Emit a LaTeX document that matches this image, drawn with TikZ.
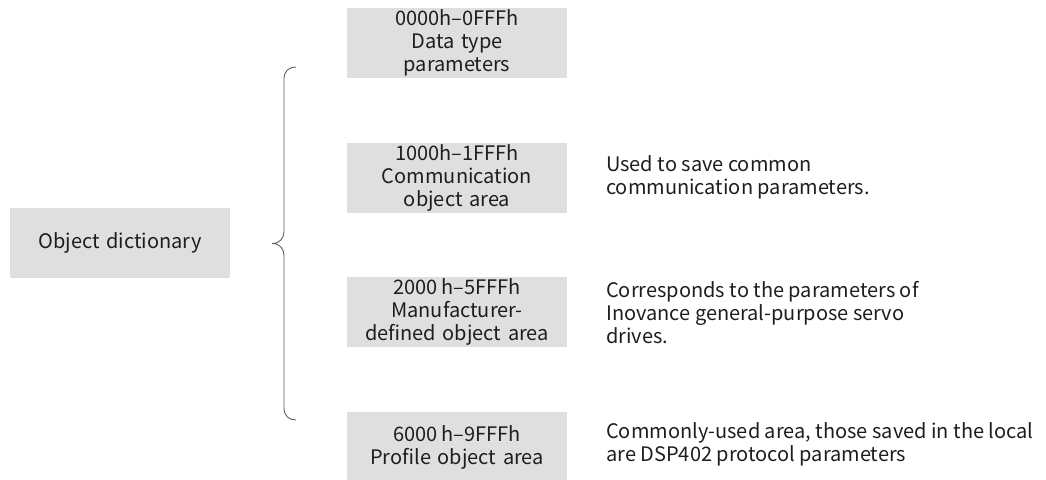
\documentclass[tikz,border=0pt]{standalone}
\usepackage{fontspec}
\setmainfont{Noto Sans CJK SC}
\definecolor{boxfill}{HTML}{DFDFDF}
\definecolor{ink}{HTML}{1E1E1E}
\definecolor{bracegray}{HTML}{606060}
\begin{document}
\begin{tikzpicture}[x=1pt,y=-1pt,
  txt/.style={font=\fontsize{20}{23}\selectfont, text=ink},
  areabox/.style={txt, fill=boxfill, minimum width=220, minimum height=70,
    text width=216, align=center, inner sep=0pt},
  desc/.style={txt, anchor=west, align=left, inner sep=0pt}]
\useasboundingbox (0,0) rectangle (1046,479);

% root of the dictionary
\node[areabox] (root) at (120,243) {Object dictionary};

% index ranges
\node[areabox] (dtype) at (457,43) {0000h–0FFFh\\Data type\\parameters};
\node[areabox] (comm)  at (457,177.5) {1000h–1FFFh\\Communication\\object area};
\node[areabox] (manu)  at (457,311.5) {2000\,h–5FFFh\\Manufacturer-\\defined object area};
\node[areabox] (prof)  at (457,447) {6000\,h–9FFFh\\Profile object area};

% explanations
\node[desc] (commtxt) at (606,177) {Used to save common\\communication parameters.};
\node[desc] (manutxt) at (606,313) {Corresponds to the parameters of\\Inovance general-purpose servo\\drives.};
\node[desc] (proftxt) at (606,444) {Commonly-used area, those saved in the local\\are DSP402 protocol parameters};

% curly brace grouping the ranges
\coordinate (btop) at (296,67);
\coordinate (bbot) at (296,420);
\coordinate (btip) at (272,243.5);
\draw[bracegray, line width=0.9pt]
  (btop) .. controls (289,67) and (284,71) .. (284,79)
  -- (284,231.5) .. controls (284,238) and (280,243.5) .. (btip)
  .. controls (280,243.5) and (284,249) .. (284,255.5)
  -- (284,408) .. controls (284,416) and (289,420) .. (bbot);
\end{tikzpicture}
\end{document}
